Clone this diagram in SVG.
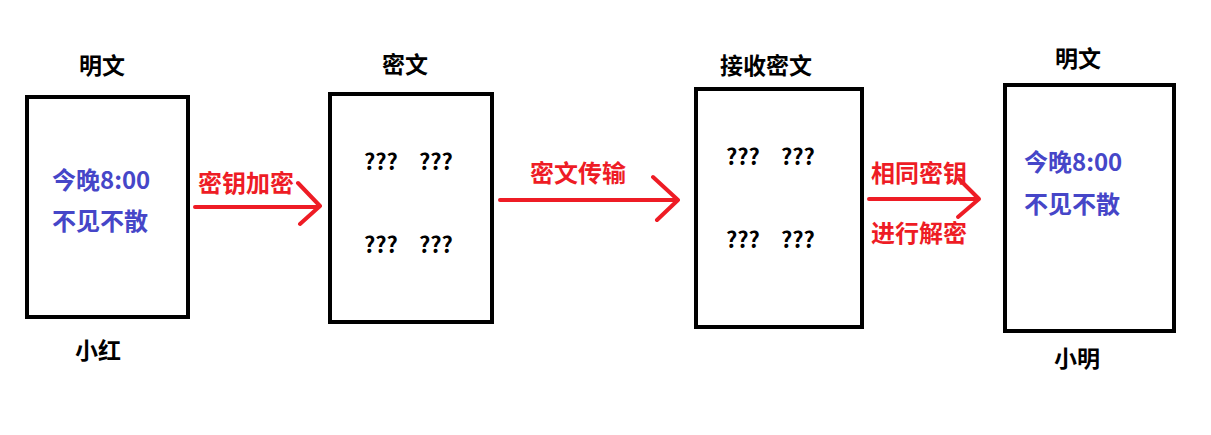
<svg xmlns="http://www.w3.org/2000/svg" width="1211" height="435" viewBox="0 0 1211 435">
<style>
text{font-family:"Noto Sans CJK SC","Microsoft YaHei",sans-serif;font-weight:bold;}
.box{fill:#fff;stroke:#000;stroke-width:4;}
.lbl{font-size:23px;fill:#000;}
.plain{font-size:24px;fill:#4646c8;}
.q{font-size:22px;fill:#000;}
.red{font-size:24px;fill:#ee1c25;}
.arr{fill:none;stroke:#ee1c25;stroke-width:4;stroke-linecap:round;stroke-linejoin:round;}
</style>
<rect width="1211" height="435" fill="#fff"/>
<g id="connectors">
<path class="arr" d="M195 207 H319 M298 183 L320 206 L300 224"/>
<path class="arr" d="M500 200 H677 M653 177 L678 200 L657 220"/>
<path class="arr" d="M869 199 H978 M959 179 L979 199 L958 217"/>
<text class="red" x="198" y="192">密钥加密</text>
<text class="red" x="530" y="182">密文传输</text>
<text class="red" x="871" y="182">相同密钥</text>
<text class="red" x="871" y="242">进行解密</text>
</g>
<g id="node-xiaohong">
<text class="lbl" x="102" y="74" text-anchor="middle">明文</text>
<rect class="box" x="27" y="97" width="161" height="220"/>
<text class="plain" x="52" y="189">今晚8:00</text>
<text class="plain" x="52" y="230">不见不散</text>
<text class="lbl" x="98" y="359" text-anchor="middle">小红</text>
</g>
<g id="node-cipher">
<text class="lbl" x="405" y="73" text-anchor="middle">密文</text>
<rect class="box" x="330" y="94" width="162" height="228"/>
<text class="q" x="364" y="170">???</text>
<text class="q" x="419" y="170">???</text>
<text class="q" x="364" y="253">???</text>
<text class="q" x="419" y="253">???</text>
</g>
<g id="node-receive">
<text class="lbl" x="766" y="74" text-anchor="middle">接收密文</text>
<rect class="box" x="696" y="89" width="166" height="238"/>
<text class="q" x="726" y="165">???</text>
<text class="q" x="781" y="165">???</text>
<text class="q" x="726" y="248">???</text>
<text class="q" x="781" y="248">???</text>
</g>
<g id="node-xiaoming">
<text class="lbl" x="1078" y="67" text-anchor="middle">明文</text>
<rect class="box" x="1005" y="85" width="169" height="246"/>
<text class="plain" x="1024" y="171">今晚8:00</text>
<text class="plain" x="1024" y="213">不见不散</text>
<text class="lbl" x="1077" y="367" text-anchor="middle">小明</text>
</g>
</svg>
